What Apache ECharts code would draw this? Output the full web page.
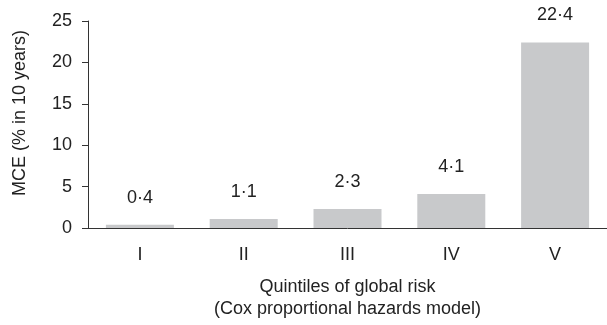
<!DOCTYPE html>
<html>
<head>
<meta charset="utf-8">
<script src="https://cdn.jsdelivr.net/npm/echarts@6/dist/echarts.min.js"></script>
<style>
html,body{margin:0;padding:0;background:#fff;}
#chart{width:607px;height:325px;}
</style>
</head>
<body>
<div id="chart"></div>
<script>
const categories = ['I', 'II', 'III', 'IV', 'V'];
const values = [0.4, 1.1, 2.3, 4.1, 22.4];
const yTicks = [0, 5, 10, 15, 20, 25];

const FONT = '"Liberation Sans", Arial, Helvetica, sans-serif';
const chart = echarts.init(document.getElementById('chart'));
chart.setOption({
  animation: false,
  backgroundColor: '#fff',
  grid: { left: 88, top: 21, width: 521, bottom: 93, containLabel: false },
  xAxis: {
    type: 'category',
    data: categories,
    name: 'Quintiles of global risk\n(Cox proportional hazards model)',
    nameLocation: 'middle',
    nameGap: 48,
    nameTextStyle: { fontFamily: FONT, fontSize: 18, color: '#222', lineHeight: 22 },
    axisLine: { lineStyle: { color: '#333', width: 1 } },
    axisTick: { length: 8, lineStyle: { color: '#333' } },
    axisLabel: { fontFamily: FONT, fontSize: 18, color: '#222', margin: 18 }
  },
  yAxis: {
    type: 'value',
    min: yTicks[0],
    max: yTicks[yTicks.length - 1],
    interval: 5,
    name: 'MCE (% in 10 years)',
    nameLocation: 'middle',
    nameGap: 59,
    nameRotate: 90,
    nameTextStyle: { fontFamily: FONT, fontSize: 18, color: '#222', padding: [0, 0, 0, 23] },
    axisLine: { show: true, lineStyle: { color: '#333', width: 1 } },
    axisTick: { show: true, length: 6, lineStyle: { color: '#333' } },
    axisLabel: { fontFamily: FONT, fontSize: 18, color: '#222', margin: 16 },
    splitLine: { show: false }
  },
  series: [{
    type: 'bar',
    data: values,
    barWidth: 68,
    itemStyle: { color: '#c8c9cb' },
    label: {
      show: true,
      position: 'top',
      distance: 18,
      fontFamily: FONT,
      fontSize: 18,
      color: '#222',
      formatter: p => String(p.value).replace('.', '\u00B7')
    }
  }]
});
</script>
</body>
</html>
